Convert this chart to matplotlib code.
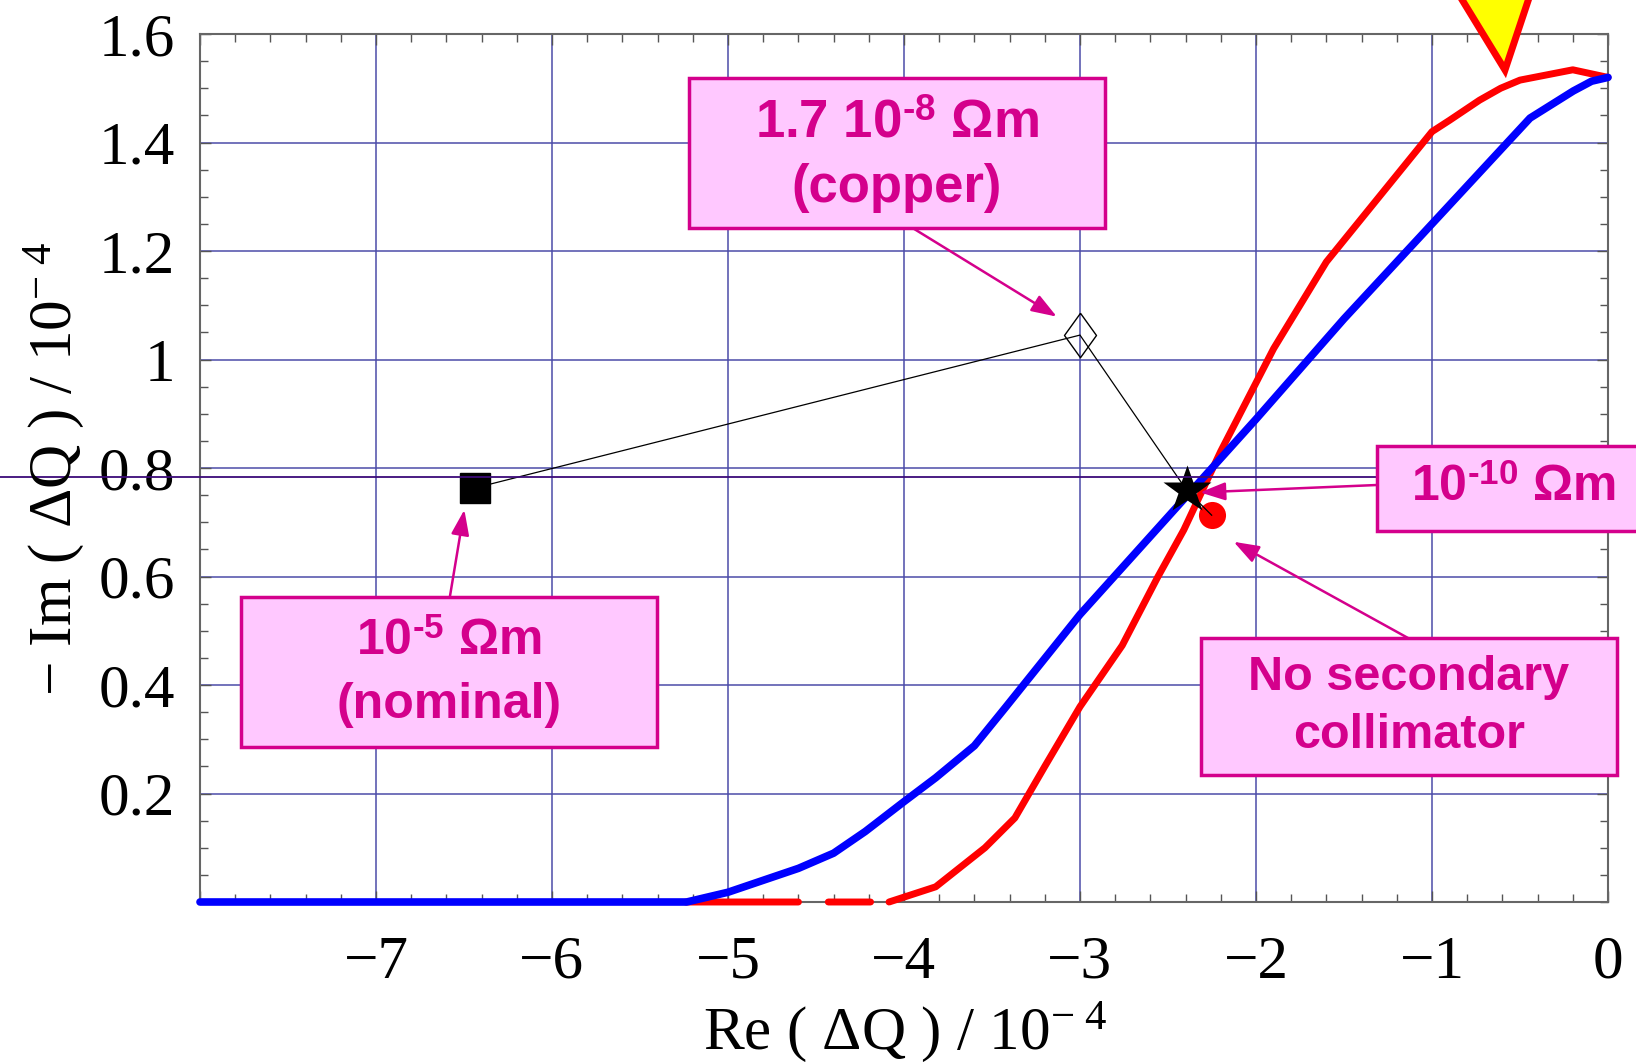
import numpy as np
import matplotlib
matplotlib.use('Agg')
import matplotlib.pyplot as plt
from matplotlib import font_manager
from matplotlib.patches import Rectangle, Polygon
from matplotlib.lines import Line2D
from matplotlib.ticker import MultipleLocator

W, H = 1636, 1062

# curves (Re, -Im) in units of 1e-4
red_x = [-5.24, -4.6, np.nan, -4.43, -4.19, np.nan,
         -4.085, -3.82, -3.54, -3.37, -3.2, -3.0, -2.76, -2.56, -2.41, -2.2,
         -1.9, -1.6, -1.3, -1.0, -0.9, -0.73, -0.61, -0.5, -0.2, 0.0]
red_y = [0.0, 0.0, np.nan, 0.0, 0.0, np.nan,
         0.0, 0.028, 0.1, 0.155, 0.25, 0.36, 0.473, 0.598, 0.686, 0.831,
         1.02, 1.18, 1.3, 1.42, 1.441, 1.478, 1.50, 1.515, 1.534, 1.52]

blue_x = [-8.0, -5.235, -5.0, -4.6, -4.4, -4.22, -4.0, -3.82, -3.6, -3.42,
          -3.0, -2.5, -2.0, -1.5, -1.0, -0.443, -0.197, -0.093, 0.0]
blue_y = [0.0, 0.0, 0.018, 0.062, 0.09, 0.13, 0.185, 0.229, 0.288, 0.36,
          0.53, 0.71, 0.89, 1.075, 1.25, 1.445, 1.495, 1.513, 1.52]

# resistivity scan points: 1e-5 (nominal), 1.7e-8 (copper), 1e-10, no secondary collimator
res_x = [-6.44, -3.0, -2.394, -2.252]
res_y = [0.763, 1.045, 0.759, 0.713]

xticks = [-8, -7, -6, -5, -4, -3, -2, -1, 0]
xlabels = ['', '\u22127', '\u22126', '\u22125', '\u22124', '\u22123', '\u22122', '\u22121', '0']
yticks = [0.2, 0.4, 0.6, 0.8, 1.0, 1.2, 1.4, 1.6]
ylabels = ['0.2', '0.4', '0.6', '0.8', '1', '1.2', '1.4', '1.6']

names = {f.name for f in font_manager.fontManager.ttflist}
box_font = 'Liberation Sans Narrow' if 'Liberation Sans Narrow' in names else 'Liberation Sans'

plt.rcParams['font.family'] = ['Liberation Serif', 'DejaVu Serif']
plt.rcParams['mathtext.fontset'] = 'custom'
plt.rcParams['mathtext.rm'] = 'Liberation Serif'
plt.rcParams['mathtext.it'] = 'Liberation Serif:italic'
plt.rcParams['mathtext.bf'] = box_font + ':bold'

fig = plt.figure(figsize=(W / 100, H / 100), dpi=100)


def fx(px):
    return px / W


def fy(py):
    return 1 - py / H


ax = fig.add_axes([fx(200), fy(902), fx(1608) - fx(200), fy(34) - fy(902)])
ax.set_xlim(-8, 0)
ax.set_ylim(0, 1.6)

ax.plot(red_x, red_y, color='#ff0000', lw=5, solid_capstyle='round', clip_on=False, zorder=3)
ax.plot(blue_x, blue_y, color='#0000ff', lw=5.5, solid_capstyle='round', clip_on=False, zorder=3.2)

ax.plot(res_x, res_y, color='black', lw=0.9, zorder=4)
ax.plot(res_x[3], res_y[3], 'o', color='#ff0000', ms=19.5, mec='none', zorder=3.8)
ax.plot(res_x[0], res_y[0], 's', color='black', ms=21.5, zorder=5)
diamond = [(0, 1), (0.72, 0), (0, -1), (-0.72, 0), (0, 1)]
ax.plot(res_x[1], res_y[1], marker=diamond, ms=32, mfc='none', mec='black', mew=1, zorder=5)
ax.plot(res_x[2], res_y[2], '*', color='black', ms=36, mec='none', zorder=5)

ax.set_xticks(xticks)
ax.set_xticklabels(xlabels)
ax.set_yticks(yticks)
ax.set_yticklabels(ylabels)
ax.xaxis.set_minor_locator(MultipleLocator(0.2))
ax.yaxis.set_minor_locator(MultipleLocator(0.05))
ax.tick_params(which='both', direction='in', top=True, right=True, color='#555555')
ax.tick_params(which='major', length=8, width=1, labelsize=44)
ax.tick_params(axis='x', which='major', pad=24)
ax.tick_params(axis='y', which='major', pad=18)
ax.tick_params(which='minor', length=5.5, width=1)
ax.grid(True, which='major', color='#4c4ca8', lw=1.1)
for s in ax.spines.values():
    s.set_color('#666666')
    s.set_linewidth(1.5)

fig.text(fx(905), fy(1049), 'Re ( \u0394Q ) / 10$^{-\\ 4}$', fontsize=44, ha='center', va='baseline')
fig.text(fx(54), fy(469), '\u2212 Im ( \u0394Q ) / 10$^{-\\ 4}$', fontsize=44, ha='center', va='center',
         rotation=90)

# stray horizontal line across the plot
fig.add_artist(Line2D([0, fx(1380)], [fy(477.3), fy(477.3)], color='#3c0a78', lw=1.3, zorder=1.8))

# yellow marker triangle at the top
tri = Polygon([(fx(1450), fy(-20)), (fx(1535), fy(-20)), (fx(1505), fy(70))], closed=True,
              transform=fig.transFigure, facecolor='#ffff00', edgecolor='#ff0000', lw=5, zorder=6)
fig.add_artist(tri)

pink = '#ffc8ff'
mag = '#d4008c'

boxes = [
    # (left, top, right, bottom) in picture pixels
    (689, 77.5, 1105, 228),
    (1377, 446, 1660, 531),
    (1201, 638, 1617, 775),
    (241, 596.5, 657, 747),
]
for l, t, r, b in boxes:
    fig.add_artist(Rectangle((fx(l), fy(b)), fx(r) - fx(l), fy(t) - fy(b), transform=fig.transFigure,
                             facecolor=pink, edgecolor=mag, lw=2.5, zorder=7))

box_lines = [
    (897, 123, '1.7 10$^{\\mathbf{\u20108}}$ \u03a9m', 38),
    (897, 188, '(copper)', 38),
    (1513, 488, '10$^{\\mathbf{\u201010}}$ \u03a9m', 36),
    (1409, 678, 'No secondary', 35),
    (1409, 735, 'collimator', 35),
    (449, 642, '10$^{\\mathbf{\u20105}}$ \u03a9m', 36),
    (449, 705, '(nominal)', 36),
]
for x, y, s, size in box_lines:
    fig.text(fx(x), fy(y), s, fontsize=size, color=mag, fontweight='bold', family=box_font,
             ha='center', va='center', zorder=8)

arrows = [
    # (tip x, tip y in data), (start px, py)
    ((-3.132, 1.079), (911, 227)),
    ((-2.318, 0.755), (1377, 485)),
    ((-2.127, 0.664), (1408, 638)),
    ((-6.498, 0.723), (450, 596)),
]
for (tx, ty), (sx, sy) in arrows:
    ax.annotate('', xy=(tx, ty), xycoords='data', xytext=(fx(sx), fy(sy)), textcoords='figure fraction',
                arrowprops=dict(arrowstyle='-|>,head_length=0.7,head_width=0.25', color=mag, lw=1.8,
                                shrinkA=0, shrinkB=0, mutation_scale=22),
                annotation_clip=False, zorder=6)

fig.savefig('out.png', dpi=100)
